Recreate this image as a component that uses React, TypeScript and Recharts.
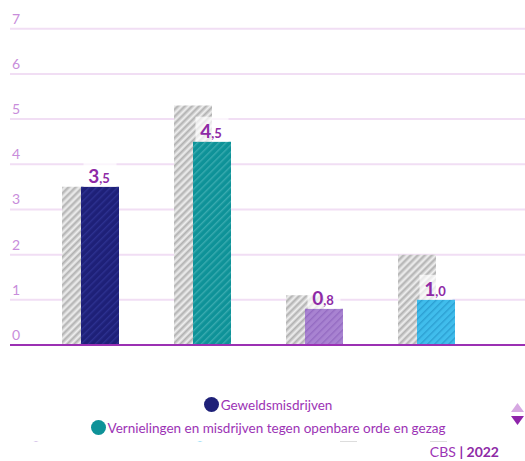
import { BarChart, Bar, XAxis, YAxis, CartesianGrid, Cell, LabelList } from 'recharts'

// ============================================
// Data
// ============================================

const categories = [
  'Geweldsmisdrijven',
  'Vernielingen en misdrijven tegen openbare orde en gezag',
  'Vermogensmisdrijven',
  'Overige misdrijven',
]
const vergelijking = [3.5, 5.3, 1.1, 2.0]
const waarden = [3.5, 4.5, 0.8, 1.0]
const yTicks = [0, 1, 2, 3, 4, 5, 6, 7]
const legendItems = ['Geweldsmisdrijven', 'Vernielingen en misdrijven tegen openbare orde en gezag']

const FONT = 'Lato, "Noto Sans", sans-serif'
const PURPLE = '#8e2aa6'
const BAR_COLORS = ['#1e2078', '#0e9298', '#a883d1', '#40bdec']
const STRIPE_COLORS = ['#2d3190', '#3aabb0', '#946bc2', '#2c9fd2']

const data = categories.map((name, i) => ({
  name,
  vergelijking: vergelijking[i],
  waarde: waarden[i],
}))

// label "3,5" with small decimals on a light box
const renderLabel = (props: any) => {
  const { x, y, width, value } = props
  const cx = Number(x) + Number(width) / 2
  const [int, dec] = Number(value).toFixed(1).split('.')
  return (
    <g>
      <rect x={cx - 16.5} y={Number(y) - 25} width={33} height={25} fill="#fff" fillOpacity={0.7} />
      <text x={cx - 1} y={Number(y) - 4} textAnchor="middle" fill={PURPLE} fontWeight={700} fontFamily={FONT}>
        <tspan fontSize={19}>{int}</tspan>
        <tspan fontSize={13}>,{dec}</tspan>
      </text>
    </g>
  )
}

const renderYTick = (props: any) => {
  const { y, payload } = props
  return (
    <text x={12} y={Number(y) - 5} fill="#c88ddb" fontSize={14} fontFamily={FONT}>
      {payload.value}
    </text>
  )
}

export default function App() {
  return (
    <div style={{ position: 'absolute', left: 0, top: 0, width: 525, height: 461, background: '#fff', overflow: 'hidden', fontFamily: FONT }}>
      <BarChart
        width={525}
        height={360}
        data={data}
        margin={{ top: 28.7, right: 0, left: 0, bottom: 0 }}
        barSize={38}
        barGap={-19}
      >
        <defs>
          <pattern id="hatch-gray" patternUnits="userSpaceOnUse" width={5} height={5} patternTransform="rotate(45)">
            <rect width={5} height={5} fill="#d9d9d9" />
            <rect width={1.6} height={5} fill="#b2b2b2" />
            <rect x={3} width={1} height={5} fill="#eeeeee" />
          </pattern>
          {BAR_COLORS.map((c, i) => (
            <pattern key={c} id={`hatch-${i}`} patternUnits="userSpaceOnUse" width={5} height={5} patternTransform="rotate(45)">
              <rect width={5} height={5} fill={c} />
              <rect width={1.4} height={5} fill={STRIPE_COLORS[i]} />
            </pattern>
          ))}
        </defs>

        <CartesianGrid horizontal vertical={false} stroke="#f1def4" strokeWidth={2} />

        <XAxis
          dataKey="name"
          tick={false}
          tickLine={false}
          axisLine={{ stroke: '#9b30b3', strokeWidth: 2 }}
          height={15}
          padding={{ left: 24, right: 43 }}
        />
        <YAxis
          domain={[0, 7]}
          ticks={yTicks}
          width={10}
          axisLine={false}
          tickLine={false}
          tick={renderYTick}
        />

        <Bar dataKey="vergelijking" fill="url(#hatch-gray)" isAnimationActive={false} />
        <Bar dataKey="waarde" isAnimationActive={false}>
          {data.map((d, i) => (
            <Cell key={d.name} fill={`url(#hatch-${i})`} />
          ))}
          <LabelList dataKey="waarde" content={renderLabel} />
        </Bar>
      </BarChart>

      {/* Legend */}
      <div style={{ position: 'absolute', left: 0, top: 393, width: 536, color: '#9c33b5', fontSize: 13.5 }}>
        {legendItems.map((item, i) => (
          <div key={item} style={{ display: 'flex', justifyContent: 'center', alignItems: 'center', height: 23 }}>
            <span style={{ width: 15, height: 15, borderRadius: '50%', background: BAR_COLORS[i], marginRight: 2, display: 'inline-block' }} />
            <span>{item}</span>
          </div>
        ))}
      </div>

      <svg style={{ position: 'absolute', left: 0, top: 0 }} width={525} height={461}>
        <defs>
          <clipPath id="legend-clip">
            <rect x={0} y={0} width={525} height={442} />
          </clipPath>
        </defs>
        <g clipPath="url(#legend-clip)">
          <circle cx={36} cy={449} r={7.5} fill={BAR_COLORS[2]} />
          <circle cx={200} cy={449} r={7.5} fill={BAR_COLORS[3]} />
          <rect x={340} y={441} width={17} height={15} fill="#dddddd" />
          <rect x={430} y={441} width={17} height={15} fill="#dddddd" />
        </g>
        <polygon points="511,412 517.5,403 524,412" fill="#d6a8e2" />
        <polygon points="511,416 517.5,425 524,416" fill="#8e24aa" />
        <text x={499} y={457} textAnchor="end" fontSize={14} fontFamily={FONT} fill="#9c33b5">
          CBS <tspan fontWeight={700} fill={PURPLE}>| 2022</tspan>
        </text>
      </svg>
    </div>
  )
}
